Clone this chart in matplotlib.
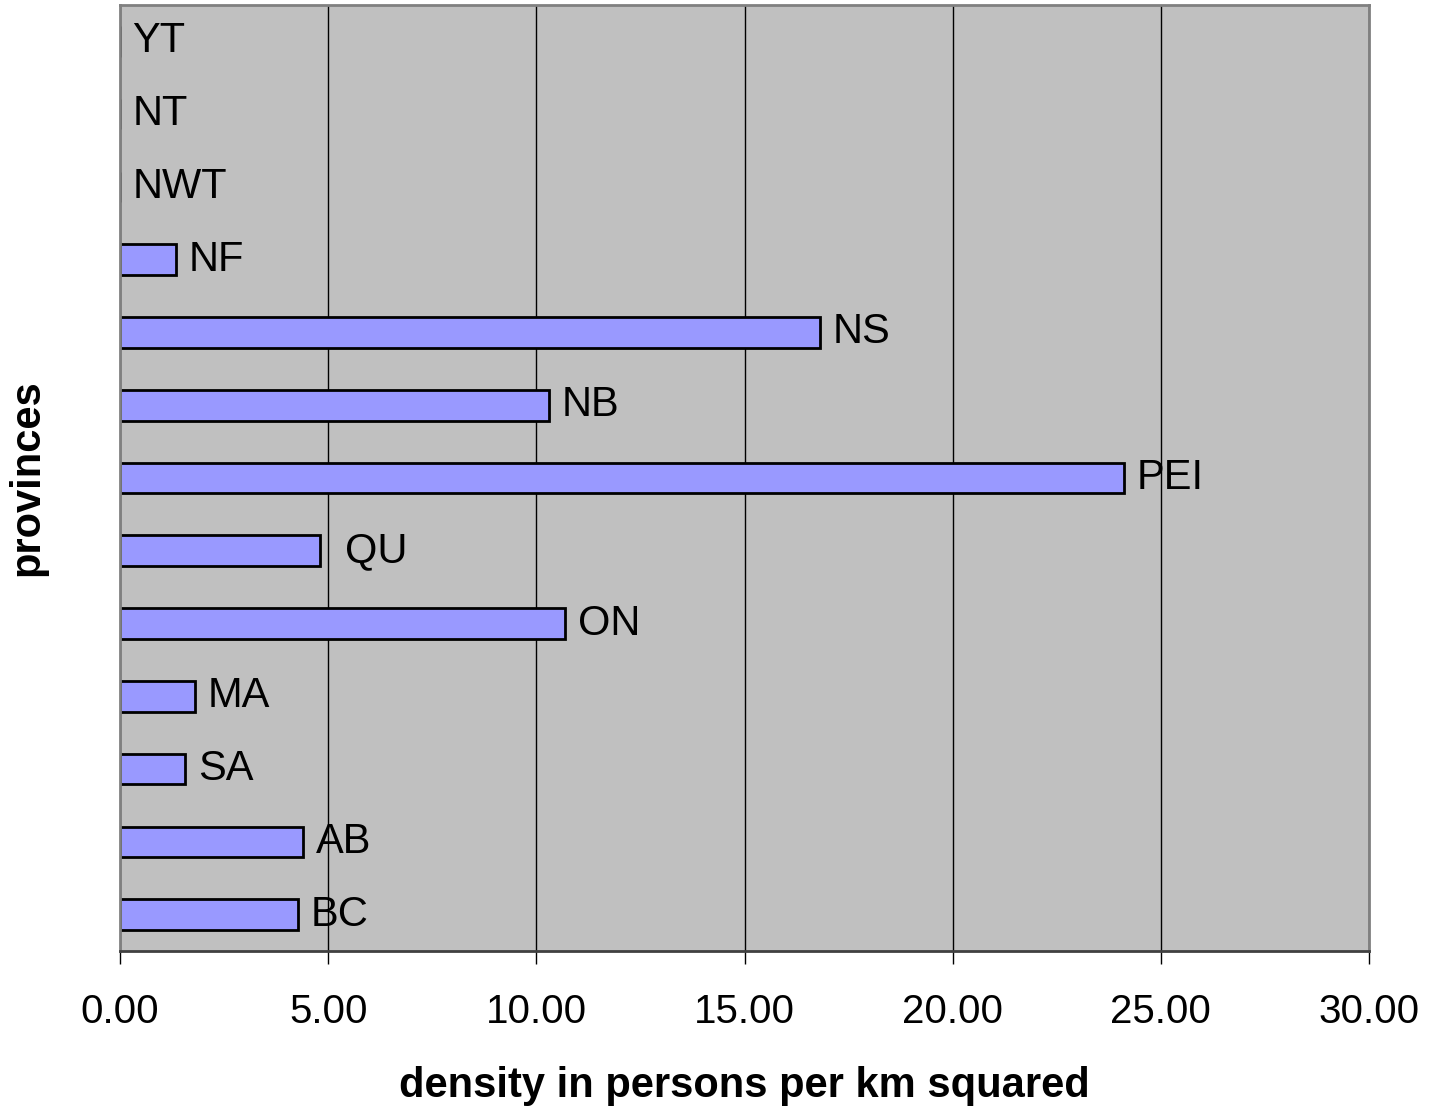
import matplotlib.pyplot as plt

provinces = ["BC", "AB", "SA", "MA", "ON", "QU", "PEI", "NB", "NS", "NF", "NWT", "NT", "YT"]
density = [4.27, 4.40, 1.57, 1.80, 10.69, 4.80, 24.12, 10.30, 16.82, 1.35, 0.0, 0.0, 0.0]

BAR_COLOR = "#9999FF"
BG_COLOR = "#C0C0C0"

plt.rcParams["font.family"] = ["Liberation Sans", "DejaVu Sans"]

fig = plt.figure(figsize=(14.37, 11.08), dpi=100)
ax = fig.add_axes([120 / 1437, 157 / 1108, 1249 / 1437, 946 / 1108])
ax.set_facecolor(BG_COLOR)

ypos = list(range(len(provinces)))
ax.barh(ypos, density, height=0.42, color=BAR_COLOR, edgecolor="black", linewidth=2, zorder=2)

# data labels sit just right of each bar; QU was nudged further out in the original
for i, (name, val) in enumerate(zip(provinces, density)):
    dx = 18 if name == "QU" else 9
    ax.annotate(name, (val, i), xytext=(dx, 0), textcoords="offset points",
                ha="left", va="center", fontsize=30, zorder=4)

ax.set_xlim(0, 30)
ax.set_ylim(-0.5, len(provinces) - 0.5)
ax.set_xticks([0, 5, 10, 15, 20, 25, 30])
ax.set_xticklabels([f"{v:.2f}" for v in [0, 5, 10, 15, 20, 25, 30]], fontsize=29)
ax.set_yticks([])
ax.tick_params(axis="x", direction="out", length=9.5, width=1, color="black", pad=21)

ax.grid(axis="x", color="black", linewidth=1, zorder=1)
ax.set_axisbelow(True)

for side in ["top", "left", "right"]:
    ax.spines[side].set_color("#808080")
    ax.spines[side].set_linewidth(2)
ax.spines["bottom"].set_color("#404040")
ax.spines["bottom"].set_linewidth(2)

ax.set_xlabel("density in persons per km squared", fontsize=30, fontweight="bold", labelpad=25)
ax.set_ylabel("provinces", fontsize=30, fontweight="bold", labelpad=52)

fig.savefig("out.png", dpi=100)
